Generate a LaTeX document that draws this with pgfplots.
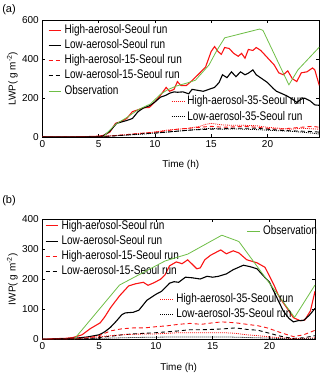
\documentclass[border=0pt]{standalone}
\usepackage{pgfplots}
\pgfplotsset{compat=1.18}
\usepackage{fontspec}
\setmainfont{Liberation Sans}
\newfontfamily\legfont[FakeStretch=0.8]{Liberation Sans}
\definecolor{obsgreen}{RGB}{110,190,70}
\definecolor{runred}{RGB}{250,20,20}
\pgfplotsset{
  base/.style={
    scale only axis, anchor=south west,
    axis line style={line width=0.5bp},
    tick style={black, line width=0.5bp},
    major tick length=3bp, tick align=inside,
    xtick={0,5,10,15,20},
    ticklabel style={font=\fontsize{10bp}{12bp}\selectfont},
    label style={font=\fontsize{11bp}{13bp}\selectfont},
    /pgf/number format/assume math mode=true,
    legend cell align=left,
    legend style={draw=none, fill=none, anchor=north west, inner sep=0pt, outer sep=0pt,
      column sep=3bp, row sep=0pt,
      font=\legfont\fontsize{12.5bp}{14bp}\selectfont,
      nodes={inner xsep=0pt, inner ysep=1.85bp, text height=9bp, text depth=2.5bp}},
    legend image code/.code={\draw[##1] (0bp,0bp) -- (12.5bp,0bp);},
  },
  hi/.style={runred, line width=1.1bp},
  lo/.style={black, line width=1.1bp},
  hidash/.style={runred, line width=0.9bp, dash pattern=on 4bp off 3bp},
  lodash/.style={black, line width=0.9bp, dash pattern=on 4bp off 3bp},
  hidot/.style={runred, line width=0.8bp, dash pattern=on 1bp off 1bp},
  lodot/.style={black, line width=0.8bp, dash pattern=on 1bp off 1bp},
  obs/.style={obsgreen, line width=0.8bp},
}
\begin{document}
\begin{tikzpicture}
\useasboundingbox (0,0) rectangle (320bp,375bp);
% ---------------- panel (a)
\begin{axis}[base, at={(42.3bp,238bp)}, width=277bp, height=116.7bp,
  xmin=0, xmax=24.6, ymin=0, ymax=600, ytick={0,200,400,600},
  xlabel={Time (h)}, ylabel={LWP( g m\textsuperscript{-2})},
  every axis x label/.style={at={(axis description cs:0.5,-0.24)}, anchor=center},
  every axis y label/.style={at={(axis description cs:-0.108,0.5)}, rotate=90, anchor=center},
  legend style={at={(0.0206,0.981)}}]
\addplot[hi] coordinates {(0,0)(1,1)(2,0)(3,1)(4,2)(5,4)(5.4,8)(6,25)(6.5,70)(7,80)(7.5,95)(8,130)(8.5,140)(9,150)(9.5,152)(10,180)(10.5,215)(11,255)(11.3,235)(11.7,245)(12,285)(12.3,265)(12.8,265)(13.3,290)(14,330)(14.5,360)(15,440)(15.3,465)(15.6,440)(15.9,425)(16.2,460)(16.6,455)(17,430)(17.4,415)(17.7,430)(18,405)(18.3,450)(18.7,445)(19,460)(19.4,445)(19.8,420)(20.2,395)(20.6,370)(21,330)(21.4,320)(21.8,340)(22.2,300)(22.6,285)(23,330)(23.5,335)(24,355)(24.2,345)(24.6,265)};
\addlegendentry{High-aerosol-Seoul run}
\addplot[lo] coordinates {(0,0)(1,1)(2,0)(3,1)(4,1)(5,2)(5.4,5)(6,30)(6.6,70)(7.5,85)(8,95)(8.5,130)(9,150)(9.5,160)(10,180)(10.5,205)(11,215)(11.3,225)(11.7,232)(12,230)(12.5,232)(13,222)(13.3,245)(13.8,240)(14.3,235)(14.8,245)(15.3,255)(15.7,280)(16,320)(16.4,305)(16.8,335)(17.2,310)(17.6,335)(18,320)(18.3,328)(18.7,345)(19,320)(19.5,300)(20,280)(20.5,250)(20.8,235)(21.2,225)(21.7,212)(22.2,195)(22.6,178)(23,195)(23.3,200)(23.8,185)(24.2,165)(24.6,163)};
\addlegendentry{Low-aerosol-Seoul run}
\addplot[hidash] coordinates {(0,0)(3,0)(5,1)(6,5)(7,10)(8,15)(9,20)(10,25)(11,32)(12,40)(13,45)(14,50)(15,55)(16,50)(17,52)(18,55)(19,50)(20,45)(21,40)(22,45)(23,50)(24,55)(24.6,50)};
\addlegendentry{High-aerosol-15-Seoul run}
\addplot[lodash] coordinates {(0,0)(3,0)(5,1)(7,8)(9,18)(10,20)(11,25)(12,30)(13,35)(14,38)(15,40)(16,42)(17,45)(18,45)(19,45)(20,40)(21,35)(22,32)(23,30)(24,28)(24.6,25)};
\addlegendentry{Low-aerosol-15-Seoul run}
\addplot[obs] coordinates {(5.4,0)(6.5,65)(7.5,100)(8.5,140)(9.6,170)(10.5,220)(11.1,242)(11.9,262)(13.0,280)(13.6,292)(14.8,370)(15.5,445)(16.2,510)(19.3,555)(19.6,548)(21.9,268)(22.7,345)(24.6,462)};
\addlegendentry{Observation}
\end{axis}
\begin{axis}[base, hide axis, at={(42.3bp,238bp)}, width=277bp, height=116.7bp,
  xmin=0, xmax=24.6, ymin=0, ymax=600,
  legend style={at={(0.465,0.368)}}]
\addplot[hidot] coordinates {(0,0)(3,0)(5,1)(7,10)(9,20)(10,25)(11,35)(12,40)(13,45)(14,55)(14.5,65)(15,70)(16,62)(17,60)(18,60)(19,58)(20,50)(21,45)(22,40)(23,45)(24,42)(24.6,40)};
\addlegendentry{High-aerosol-35-Seoul run}
\addplot[lodot] coordinates {(0,0)(3,0)(5,1)(7,8)(9,15)(10,20)(11,25)(12,30)(13,35)(14,40)(15,45)(16,40)(17,42)(18,40)(19,38)(20,35)(21,32)(22,30)(23,25)(24,20)(24.6,15)};
\addlegendentry{Low-aerosol-35-Seoul run}
\end{axis}
\node[font=\fontsize{11bp}{13bp}\selectfont] at (9bp,365bp) {(a)};
% ---------------- panel (b)
\begin{axis}[base, at={(42.3bp,35.7bp)}, width=272.7bp, height=120bp,
  xmin=0, xmax=24, ymin=0, ymax=400, ytick={0,100,200,300,400},
  xlabel={Time (h)}, ylabel={IWP( g m\textsuperscript{-2})},
  every axis x label/.style={at={(axis description cs:0.5,-0.237)}, anchor=center},
  every axis y label/.style={at={(axis description cs:-0.11,0.5)}, rotate=90, anchor=center},
  legend style={at={(0.0099,1.008)}}]
\addplot[hi] coordinates {(0,0)(1,2)(2,3)(2.7,6)(3.5,15)(4.2,35)(5.1,55)(5.5,75)(6,105)(6.5,130)(6.8,145)(7.6,178)(8.2,185)(8.9,190)(9.3,180)(9.8,188)(10.4,200)(10.8,215)(11.2,245)(11.8,258)(12.3,252)(12.8,265)(13.2,250)(13.6,235)(13.9,238)(14.3,265)(14.8,280)(15.3,290)(15.7,298)(16.2,285)(16.8,295)(17.3,288)(18,265)(18.9,255)(19.6,240)(20.4,180)(20.8,145)(21.2,122)(21.7,95)(22.1,72)(22.7,62)(23.1,64)(23.6,95)(24,160)};
\addlegendentry{High-aerosol-Seoul run}
\addplot[lo] coordinates {(0,0)(2,2)(3,4)(4,8)(5,15)(5.5,25)(6,40)(6.5,60)(7,82)(7.3,88)(8,90)(8.5,97)(9.2,130)(9.6,140)(10,150)(10.5,160)(11.2,187)(11.6,192)(12,190)(12.6,207)(13.2,205)(13.9,201)(14.5,210)(15,207)(15.5,210)(16.2,218)(16.8,232)(17.7,247)(18.3,242)(18.9,235)(19.5,210)(20,190)(20.5,150)(21.2,95)(21.7,70)(22.1,58)(22.5,62)(23,63)(23.5,80)(24,103)};
\addlegendentry{Low-aerosol-Seoul run}
\addplot[hidash] coordinates {(0,0)(3,2)(4,5)(5,12)(6,28)(7,35)(8,38)(9,38)(10,42)(11,45)(12,50)(13,53)(14,50)(15,55)(15.8,58)(17,55)(18,50)(19,45)(19.8,38)(21,22)(22.1,9)(23,15)(24,30)};
\addlegendentry{High-aerosol-15-Seoul run}
\addplot[lodash] coordinates {(0,0)(3,1)(4,2)(6,10)(7,15)(8,18)(10,22)(12,28)(13,32)(14,32)(15,33)(16,35)(17,38)(18,33)(19,30)(20,20)(21,10)(22,3)(23,5)(24,12)};
\addlegendentry{Low-aerosol-15-Seoul run}
\end{axis}
\begin{axis}[base, hide axis, at={(42.3bp,35.7bp)}, width=272.7bp, height=120bp,
  xmin=0, xmax=24, ymin=0, ymax=400,
  legend style={at={(0.75,0.961)}}]
\addplot[obs] coordinates {(2.8,0)(6.8,181)(10.8,261)(12.8,284)(15.8,347)(17.3,326)(22.2,73)(24,181)};
\addlegendentry{Observation}
\end{axis}
\begin{axis}[base, hide axis, at={(42.3bp,35.7bp)}, width=272.7bp, height=120bp,
  xmin=0, xmax=24, ymin=0, ymax=400,
  legend style={at={(0.4316,0.396)}}]
\addplot[hidot] coordinates {(0,0)(3,2)(5,8)(6,12)(7,15)(8,17)(10,18)(12,22)(14,22)(16,22)(17,20)(18,15)(19,12)(20,8)(21,5)(22,2)(23,3)(24,5)};
\addlegendentry{High-aerosol-35-Seoul run}
\addplot[lodot] coordinates {(0,0)(3,1)(5,3)(7,5)(8,6)(10,7)(12,8)(14,8)(16,8)(18,6)(20,4)(22,1)(24,2)};
\addlegendentry{Low-aerosol-35-Seoul run}
\end{axis}
\node[font=\fontsize{11bp}{13bp}\selectfont] at (9bp,174bp) {(b)};
\end{tikzpicture}
\end{document}
